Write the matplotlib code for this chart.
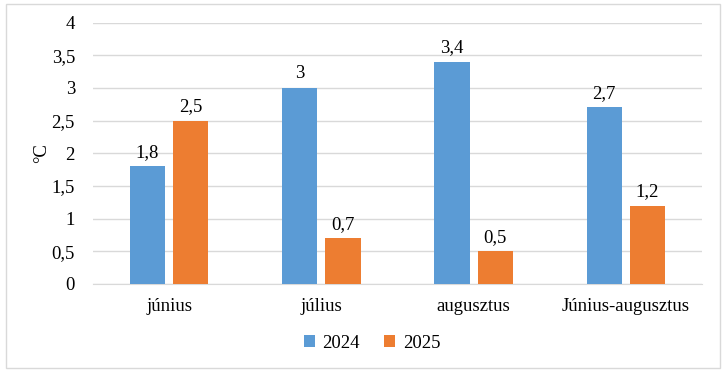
import numpy as np
import matplotlib.pyplot as plt
from matplotlib.patches import Rectangle

plt.rcParams['font.family'] = ['Liberation Serif', 'DejaVu Serif']

categories = ['június', 'július', 'augusztus', 'Június-augusztus']
values_2024 = [1.8, 3.0, 3.4, 2.7]
values_2025 = [2.5, 0.7, 0.5, 1.2]
yticks = [0, 0.5, 1, 1.5, 2, 2.5, 3, 3.5, 4]
ytick_labels = ['0', '0,5', '1', '1,5', '2', '2,5', '3', '3,5', '4']

blue = '#5b9bd5'
orange = '#ed7d31'
fs = 13.5

fig = plt.figure(figsize=(7.25, 3.75), dpi=100)
ax = fig.add_axes([93 / 725, 1 - 284 / 375, 609 / 725, 261.5 / 375])

x = np.arange(len(categories))
w = 0.23
off = 0.142
b1 = ax.bar(x - off, values_2024, w, color=blue, label='2024', zorder=3)
b2 = ax.bar(x + off, values_2025, w, color=orange, label='2025', zorder=3)

for bars, vals in ((b1, values_2024), (b2, values_2025)):
    for rect, v in zip(bars, vals):
        ax.annotate(f'{v:g}'.replace('.', ','),
                    (rect.get_x() + rect.get_width() / 2, v),
                    xytext=(0, 4), textcoords='offset points',
                    ha='center', va='bottom', fontsize=fs)

ax.set_xlim(-0.5, len(categories) - 0.5)
ax.set_ylim(0, 4)
ax.set_yticks(yticks)
ax.set_yticklabels(ytick_labels)
ax.set_xticks(x)
ax.set_xticklabels(categories)
ax.tick_params(axis='both', length=0, labelsize=fs, colors='#000000')
ax.tick_params(axis='y', pad=13)
ax.tick_params(axis='x', pad=10)
ax.grid(axis='y', color='#d9d9d9', linewidth=1, zorder=0)
for s in ['top', 'right', 'left']:
    ax.spines[s].set_visible(False)
ax.spines['bottom'].set_color('#d9d9d9')

ax.set_ylabel('°C', fontsize=fs, labelpad=1)

fig.legend(handles=[b1, b2], loc='center', bbox_to_anchor=(372 / 725, 1 - 343 / 375),
           ncol=2, frameon=False, fontsize=fs, handlelength=0.6, handleheight=0.6,
           handletextpad=0.4, columnspacing=1.3)

fig.patches.append(Rectangle((6 / 725, 1 - 368 / 375), 714 / 725, 364 / 375,
                             transform=fig.transFigure, fill=False,
                             edgecolor='#d9d9d9', linewidth=1))

fig.savefig('out.png', dpi=100)
